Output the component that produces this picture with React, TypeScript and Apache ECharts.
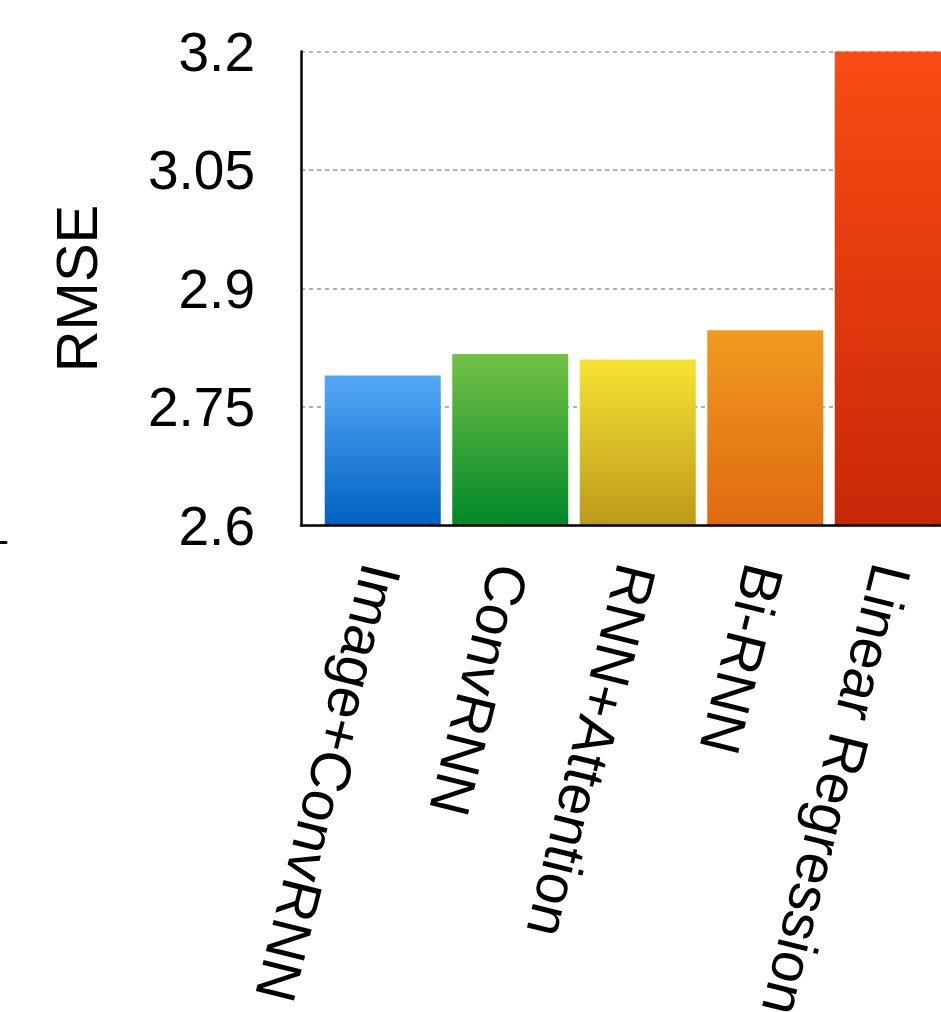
import React, { useEffect, useRef } from 'react';
import * as echarts from 'echarts';

const categories = ['Image+ConvRNN', 'ConvRNN', 'RNN+Attention', 'Bi-RNN', 'Linear Regression'];
const rmseValues = [2.79, 2.817, 2.81, 2.847, 3.2];
const yMin = 2.6;
const yMax = 3.2;
const yStep = 0.15;
const topColors = ['#55A8F8', '#74C145', '#F9E233', '#F09A20', '#FA4C12'];
const bottomColors = ['#0061C0', '#00882A', '#BC9A1A', '#E06A10', '#C82808'];

export default function App() {
  const ref = useRef<HTMLDivElement>(null);
  useEffect(() => {
    const chart = echarts.init(ref.current!, null, { renderer: 'svg' });
    const font = 'Liberation Sans';
    chart.setOption({
      animation: false,
      backgroundColor: '#fff',
      grid: [
        { left: 301, top: 51.5, width: 680, height: 474, outerBoundsMode: 'none', containLabel: false },
        { left: 319, top: 51.5, width: 637.5, height: 474, outerBoundsMode: 'none', containLabel: false },
        { left: 0, top: 45, width: 6, height: 497, outerBoundsMode: 'none', containLabel: false },
      ],
      xAxis: [
        {
          gridIndex: 0, type: 'value', min: 0, max: 1, z: 3,
          axisLine: { show: true, lineStyle: { color: '#000', width: 2.5 } },
          axisTick: { show: false }, axisLabel: { show: false }, splitLine: { show: false },
        },
        {
          gridIndex: 1, type: 'category', data: categories,
          axisLine: { show: false }, axisTick: { show: false },
          axisLabel: { interval: 0, rotate: -104, margin: 40, fontSize: 57, fontFamily: font, color: '#000' },
        },
        {
          gridIndex: 2, type: 'value', min: 0, max: 1, z: 3,
          axisLine: { show: true, lineStyle: { color: '#000', width: 3 } },
          axisTick: { show: false }, axisLabel: { show: false }, splitLine: { show: false },
        },
      ],
      yAxis: [
        {
          gridIndex: 0, type: 'value', min: yMin, max: yMax, interval: yStep,
          name: 'RMSE', nameLocation: 'middle', nameRotate: 90, nameGap: 196,
          nameTextStyle: { fontSize: 58, fontFamily: font, color: '#000' },
          axisLine: { show: true, lineStyle: { color: '#000', width: 2.5 } },
          axisTick: { show: false },
          axisLabel: { margin: 46, fontSize: 55, fontFamily: font, color: '#000' },
          splitLine: { show: true, lineStyle: { color: '#999', width: 1.5, type: [4, 4] } },
        },
        { gridIndex: 1, type: 'value', min: yMin, max: yMax, show: false },
        {
          gridIndex: 2, type: 'value', min: 0, max: 4, interval: 1, position: 'right', z: 2,
          axisLine: { show: false },
          axisTick: { show: true, inside: true, length: 6, lineStyle: { color: '#999', width: 2 } },
          axisLabel: { show: false }, splitLine: { show: false },
        },
      ],
      series: [
        {
          type: 'bar', xAxisIndex: 1, yAxisIndex: 1, barWidth: 116,
          data: rmseValues.map((v, i) => ({
            value: v,
            itemStyle: {
              color: new echarts.graphic.LinearGradient(0, 0, 0, 1, [
                { offset: 0, color: topColors[i] },
                { offset: 1, color: bottomColors[i] },
              ]),
            },
          })),
        },
      ],
    });
    return () => chart.dispose();
  }, []);
  return <div ref={ref} style={{ position: 'fixed', left: 0, top: 0, width: 980, height: 1012 }} />;
}
